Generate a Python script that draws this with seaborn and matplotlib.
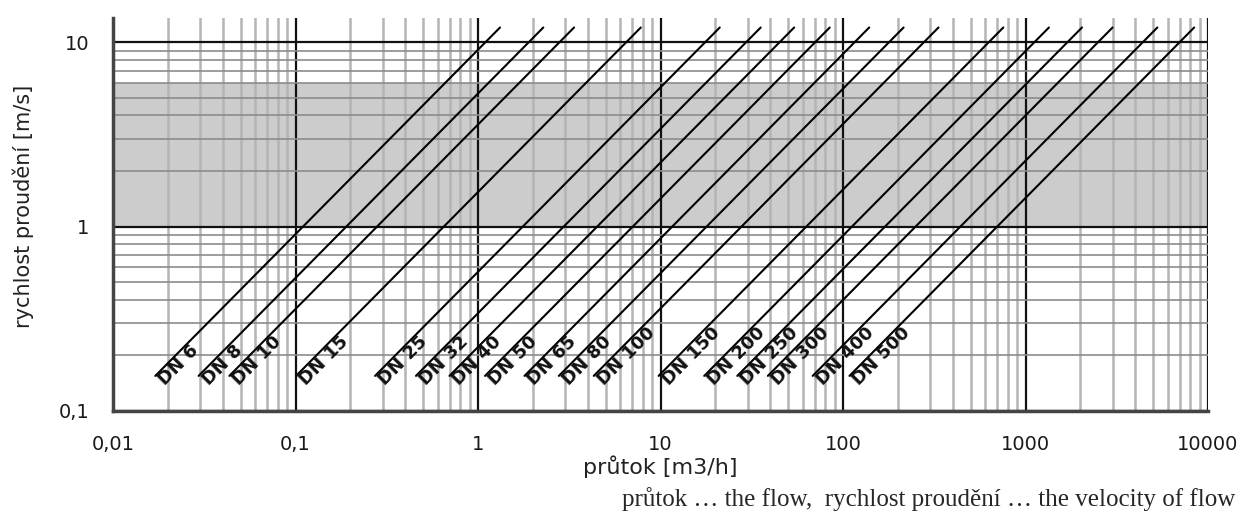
import numpy as np
import pandas as pd
import matplotlib
matplotlib.use("Agg")
import matplotlib.pyplot as plt
from matplotlib.ticker import FixedLocator, LogLocator, NullFormatter
import seaborn as sns

# pipe sizes and flow (m3/h) at which each line crosses 1 m/s
dn_sizes = [6, 8, 10, 15, 25, 32, 40, 50, 65, 80, 100, 150, 200, 250, 300, 400, 500]
q_at_1ms = [0.11, 0.19, 0.28, 0.65, 1.76, 2.95, 4.5, 7.05, 11.6, 17.9, 27.8,
            63, 112, 170, 250, 440, 700]
v_start = 0.155   # velocity where each line (and its label) begins
v_end = 12.0      # velocity where each line stops at the top

x_ticks = [0.01, 0.1, 1, 10, 100, 1000, 10000]
x_ticklabels = ["0,01", "0,1", "1", "10", "100", "1000", "10000"]
y_ticks = [0.1, 1, 10]
y_ticklabels = ["0,1", "1", "10"]
band = (1, 6)   # shaded recommended velocity range

rows = []
for dn, q in zip(dn_sizes, q_at_1ms):
    rows.append({"dn": dn, "q": q * v_start, "v": v_start})
    rows.append({"dn": dn, "q": q * v_end, "v": v_end})
df = pd.DataFrame(rows)

sns.set_style("white")
plt.rcParams["font.family"] = ["DejaVu Sans"]

fig = plt.figure(figsize=(12.5, 5.16), dpi=100)
ax = fig.add_axes([0.0904, 0.2035, 0.8760, 0.7615])
ax.set_xscale("log")
ax.set_yscale("log")
ax.set_xlim(0.01, 10000)
ax.set_ylim(0.1, 13.5)

ax.axhspan(band[0], band[1], color="#cccccc", zorder=0, lw=0)

ax.xaxis.set_major_locator(FixedLocator(x_ticks))
ax.yaxis.set_major_locator(FixedLocator(y_ticks))
ax.xaxis.set_minor_locator(LogLocator(base=10, subs=np.arange(2, 10)))
ax.yaxis.set_minor_locator(LogLocator(base=10, subs=np.arange(2, 10)))
ax.xaxis.set_minor_formatter(NullFormatter())
ax.yaxis.set_minor_formatter(NullFormatter())
ax.set_xticklabels(x_ticklabels)
ax.set_yticklabels(y_ticklabels)

ax.grid(which="minor", axis="x", color="#b4b4b4", lw=1.8, zorder=1)
ax.grid(which="minor", axis="y", color="#8c8c8c", lw=1.2, zorder=1)
ax.grid(which="major", color="#111111", lw=1.6, zorder=2)
ax.set_axisbelow(True)

ax.tick_params(which="major", direction="out", length=10, width=1.5,
               color="#333333", labelsize=14, labelcolor="#1a1a1a", pad=7)
ax.tick_params(which="minor", length=0)

for side in ["top", "right"]:
    ax.spines[side].set_visible(False)
for side in ["left", "bottom"]:
    ax.spines[side].set_color("#444444")
    ax.spines[side].set_linewidth(2.5)

sns.lineplot(data=df, x="q", y="v", units="dn", estimator=None,
             color="black", lw=1.5, ax=ax, zorder=3, legend=False)

# angle of the lines on screen
p0 = ax.transData.transform((1, 1))
p1 = ax.transData.transform((10, 10))
angle = np.degrees(np.arctan2(p1[1] - p0[1], p1[0] - p0[0]))

for dn, q in zip(dn_sizes, q_at_1ms):
    ax.text(q * v_start, v_start, f"DN {dn}", rotation=angle,
            rotation_mode="anchor", ha="left", va="top",
            fontsize=13, fontweight="bold", color="#111111", zorder=4)

ax.set_xlabel("průtok [m3/h]", fontsize=16, color="#222222")
ax.xaxis.set_label_coords(0.5, -0.112)
ax.set_ylabel("rychlost proudění [m/s]", fontsize=15, color="#222222")
ax.yaxis.set_label_coords(-0.072, 0.52)

fig.text(0.498, 0.019, "průtok … the flow,  rychlost proudění … the velocity of flow",
         fontsize=18, family="Liberation Serif", va="baseline", ha="left")

fig.savefig("out.png", dpi=100)
